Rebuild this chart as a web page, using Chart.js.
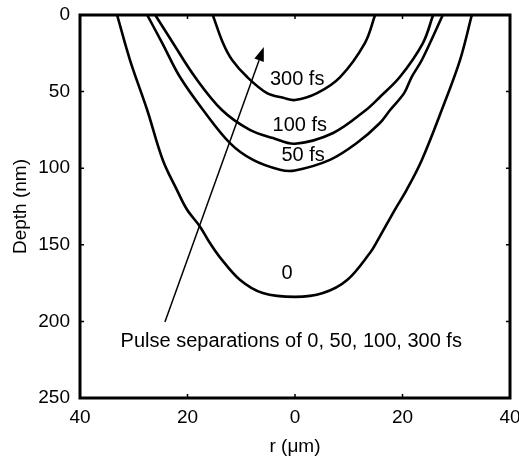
<!DOCTYPE html>
<html>
<head>
<meta charset="utf-8">
<script src="https://cdn.jsdelivr.net/npm/chart.js@4.4.0/dist/chart.umd.min.js"></script>
<style>
  body { margin: 0; background: #fff; }
  #wrap { width: 519px; height: 460px; }
</style>
</head>
<body>
<div id="wrap"><canvas id="depthChart" width="519" height="460"></canvas></div>
<script>
// crater profiles: radius (um) vs depth (nm)
const r0 = [-33.1, -30.7, -27.5, -24.6, -22.0, -20.1, -17.7, -15.8, -14.0, -10.2, -6.0, 0, 5.2, 9.7, 14.0, 15.4, 18.6, 20.8, 23.6, 27.3, 30.7, 32.9];
const depth0 = [0, 29.4, 62, 94.6, 114, 127, 138, 149, 158, 173, 181.5, 184, 181.5, 173, 155, 147, 127, 114, 94.6, 62, 29.4, 0];

const r50 = [-27.5, -24.7, -21.4, -17.1, -12.1, -7.8, -2.8, 0, 6.5, 11.5, 15.8, 17.7, 20.3, 21.7, 23.6, 27.5];
const depth50 = [0, 18.3, 40.5, 62, 83.6, 94.6, 101, 101.5, 94.6, 83.6, 70.5, 62, 51, 40.5, 29.4, 0];

const r100 = [-26.0, -22.7, -18.6, -13.6, -8.4, -4.1, 0, 7.1, 13.2, 15.8, 19.5, 23.8, 25.7];
const depth100 = [0, 18.3, 40.5, 62, 75, 80.3, 84, 77, 62, 53.5, 40.5, 18.3, 0];

const r300 = [-15.3, -13.4, -11.7, -8.9, -5.2, -2.2, 0, 4.1, 8.4, 13.0, 14.9];
const depth300 = [0, 18.3, 29.4, 40.5, 51, 54, 55.5, 51, 40.5, 18.3, 0];

const xTicks = [-40, -20, 0, 20, 40];
const yTicks = [0, 50, 100, 150, 200, 250];

// text labels placed in data coordinates
const curveLabels = ['300 fs', '100 fs', '50 fs', '0'];
const labelR = [0.4, 0.9, 1.5, -1.5];
const labelDepth = [42, 72, 91.5, 169];
const noteText = 'Pulse separations of 0, 50, 100, 300 fs';
const noteR = -0.7;
const noteDepth = 213;
// arrow from the note up to the 300 fs curve
const arrowR = [-24.2, -5.8];
const arrowDepth = [200.4, 20.9];

function pts(rs, ds) {
    return rs.map((r, i) => ({ x: r, y: ds[i] }));
}

function curve(rs, ds) {
    return {
        data: pts(rs, ds),
        borderColor: '#000',
        borderWidth: 2.6,
        pointRadius: 0,
        fill: false,
        tension: 0.35
    };
}

const fontFam = '"Liberation Sans", Arial, sans-serif';

const extras = {
    id: 'extras',
    afterDraw(chart) {
        const ctx = chart.ctx;
        const xs = chart.scales.x;
        const ys = chart.scales.y;
        const a = chart.chartArea;
        ctx.save();

        // frame
        ctx.strokeStyle = '#000';
        ctx.lineWidth = 3;
        ctx.strokeRect(a.left, a.top, a.right - a.left, a.bottom - a.top);

        // inward ticks on all four sides
        ctx.lineWidth = 1.5;
        ctx.beginPath();
        xTicks.forEach(v => {
            const px = xs.getPixelForValue(v);
            ctx.moveTo(px, a.bottom); ctx.lineTo(px, a.bottom - 4);
            ctx.moveTo(px, a.top); ctx.lineTo(px, a.top + 4);
        });
        yTicks.forEach(v => {
            const py = ys.getPixelForValue(v);
            ctx.moveTo(a.left, py); ctx.lineTo(a.left + 4, py);
            ctx.moveTo(a.right, py); ctx.lineTo(a.right - 4, py);
        });
        ctx.stroke();

        // arrow
        const x1 = xs.getPixelForValue(arrowR[0]), y1 = ys.getPixelForValue(arrowDepth[0]);
        const x2 = xs.getPixelForValue(arrowR[1]), y2 = ys.getPixelForValue(arrowDepth[1]);
        const ang = Math.atan2(y2 - y1, x2 - x1);
        const headLen = 14, headW = 5;
        const bx = x2 - headLen * Math.cos(ang), by = y2 - headLen * Math.sin(ang);
        ctx.lineWidth = 1.5;
        ctx.beginPath();
        ctx.moveTo(x1, y1);
        ctx.lineTo(bx, by);
        ctx.stroke();
        ctx.fillStyle = '#000';
        ctx.beginPath();
        ctx.moveTo(x2, y2);
        ctx.lineTo(bx + headW * Math.sin(ang), by - headW * Math.cos(ang));
        ctx.lineTo(bx - headW * Math.sin(ang), by + headW * Math.cos(ang));
        ctx.closePath();
        ctx.fill();

        // labels
        ctx.font = '20px ' + fontFam;
        ctx.textAlign = 'center';
        ctx.textBaseline = 'middle';
        curveLabels.forEach((t, i) => {
            ctx.fillText(t, xs.getPixelForValue(labelR[i]), ys.getPixelForValue(labelDepth[i]));
        });
        ctx.fillText(noteText, xs.getPixelForValue(noteR), ys.getPixelForValue(noteDepth));
        ctx.restore();
    }
};

new Chart(document.getElementById('depthChart'), {
    type: 'line',
    data: {
        datasets: [
            curve(r0, depth0),
            curve(r50, depth50),
            curve(r100, depth100),
            curve(r300, depth300)
        ]
    },
    options: {
        responsive: false,
        animation: false,
        layout: { padding: { top: 15, right: 9, left: 0, bottom: 0 } },
        plugins: {
            legend: { display: false },
            tooltip: { enabled: false }
        },
        scales: {
            x: {
                type: 'linear',
                min: -40,
                max: 40,
                afterFit(scale) {
                    scale.height = 62;
                    scale.paddingLeft = 0;
                    scale.paddingRight = 0;
                },
                afterBuildTicks(scale) { scale.ticks = xTicks.map(v => ({ value: v })); },
                grid: { display: false, drawTicks: false },
                border: { display: false },
                ticks: {
                    color: '#000',
                    padding: 8,
                    maxRotation: 0,
                    font: { size: 19, family: fontFam },
                    callback: v => Math.abs(v)
                },
                title: {
                    display: true,
                    text: 'r (μm)',
                    color: '#000',
                    padding: { top: 0, bottom: 2 },
                    font: { size: 19, family: fontFam }
                }
            },
            y: {
                type: 'linear',
                min: 0,
                max: 250,
                reverse: true,
                afterFit(scale) {
                    scale.width = 80;
                    scale.paddingTop = 0;
                    scale.paddingBottom = 0;
                },
                afterBuildTicks(scale) { scale.ticks = yTicks.map(v => ({ value: v })); },
                grid: { display: false, drawTicks: false },
                border: { display: false },
                ticks: {
                    color: '#000',
                    padding: 10,
                    font: { size: 19, family: fontFam }
                },
                title: {
                    display: true,
                    text: 'Depth (nm)',
                    color: '#000',
                    padding: { top: 9, bottom: 0 },
                    font: { size: 19, family: fontFam }
                }
            }
        }
    },
    plugins: [extras]
});
</script>
</body>
</html>
